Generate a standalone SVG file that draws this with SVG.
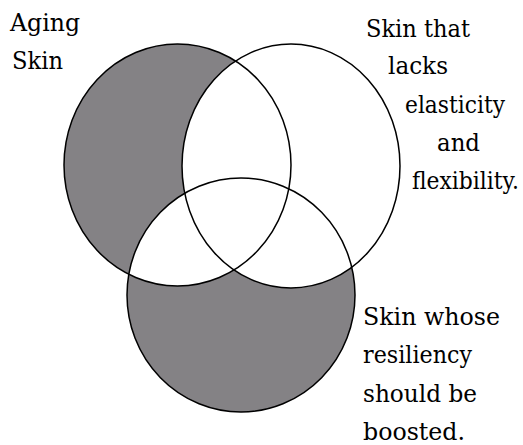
<svg xmlns="http://www.w3.org/2000/svg" width="523" height="445" viewBox="0 0 523 445">
<style>
text{font-family:'DejaVu Serif','Liberation Serif',serif;font-size:24px;fill:#000}
.ring{fill:none;stroke:#000;stroke-width:1.5}
</style>
<defs>
<ellipse id="eL" cx="177.5" cy="165" rx="113.5" ry="121"/>
<ellipse id="eR" cx="291" cy="166" rx="109" ry="122"/>
<ellipse id="eB" cx="241" cy="295" rx="114" ry="117"/>
<clipPath id="clipL"><use href="#eL"/></clipPath>
</defs>
<rect width="523" height="445" fill="#fff"/>
<g id="shading">
<use href="#eL" fill="#848285"/>
<use href="#eB" fill="#848285"/>
<use href="#eR" fill="#fff"/>
<use href="#eB" fill="#fff" clip-path="url(#clipL)"/>
</g>
<g id="node-aging">
<use href="#eL" class="ring"/>
<text x="10" y="31" textLength="70" lengthAdjust="spacingAndGlyphs">Aging</text>
<text x="12" y="69" textLength="51" lengthAdjust="spacingAndGlyphs">Skin</text>
</g>
<g id="node-elasticity">
<use href="#eR" class="ring"/>
<text x="366" y="37" textLength="104" lengthAdjust="spacingAndGlyphs">Skin that</text>
<text x="388" y="74" textLength="60" lengthAdjust="spacingAndGlyphs">lacks</text>
<text x="405" y="113" textLength="100" lengthAdjust="spacingAndGlyphs">elasticity</text>
<text x="437" y="151" textLength="43" lengthAdjust="spacingAndGlyphs">and</text>
<text x="412" y="189" textLength="107" lengthAdjust="spacingAndGlyphs">flexibility.</text>
</g>
<g id="node-resiliency">
<use href="#eB" class="ring"/>
<text x="363" y="325" textLength="137" lengthAdjust="spacingAndGlyphs">Skin whose</text>
<text x="363" y="363" textLength="109" lengthAdjust="spacingAndGlyphs">resiliency</text>
<text x="363" y="402" textLength="114" lengthAdjust="spacingAndGlyphs">should be</text>
<text x="363" y="440" textLength="102" lengthAdjust="spacingAndGlyphs">boosted.</text>
</g>
<g id="connectors"></g>
</svg>
